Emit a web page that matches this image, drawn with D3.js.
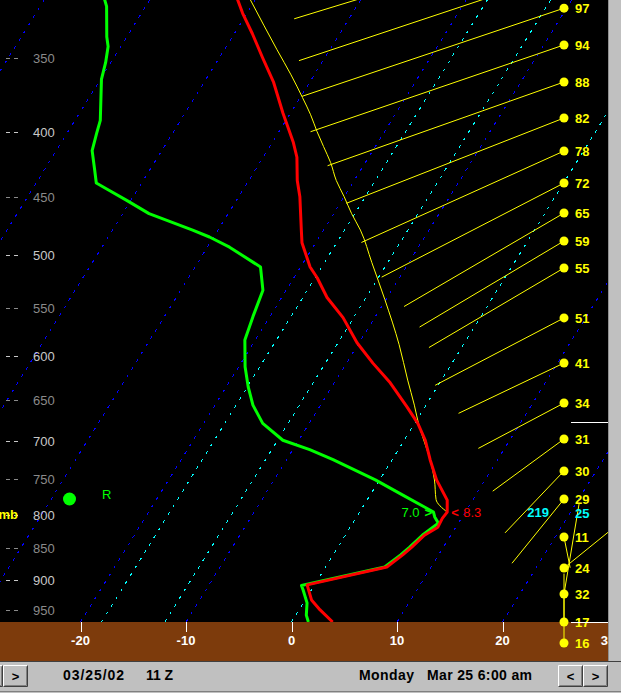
<!DOCTYPE html>
<html><head><meta charset="utf-8">
<script src="https://cdn.jsdelivr.net/npm/d3@7"></script>
<style>
html,body{margin:0;padding:0;background:#000;overflow:hidden}
svg{display:block}
text{font-family:"Liberation Sans",Arial,sans-serif}
</style></head><body>
<svg id="c" width="621" height="693"></svg>
<script>
// ---------- data ----------
const pressureLabels = [350,400,450,500,550,600,650,700,750,800,850,900,950];
const tempTicks = [-20,-10,0,10,20,30];
const isothermsBlue = [-60,-50,-40,-30,-20,-10,10,20,30];
const isothermsCyan = [-18,-12,0];

const tempP = [315,323,335,350,366,387,408,419,437,450,478,489,511,521,540,560,586,608,630,658,678,699,724,751,779,796,805,818,830,848,860,879,908,933,950,971];
const tempT = [-41.7,-40.4,-38.3,-35.9,-33.4,-30.7,-28.0,-26.8,-25.4,-24.2,-22.1,-21.3,-19.1,-17.8,-15.7,-13.0,-10.2,-7.5,-4.7,-1.7,0.3,2.0,3.6,5.4,7.6,8.3,8.2,8.3,7.5,7.0,6.6,5.8,-0.7,0.6,2.0,3.9];

const dewP = [315,319,337,343,353,364,392,401,414,429,439,444,453,464,478,484,493,511,533,559,583,612,635,656,678,699,711,724,751,772,789,796,803,812,830,848,860,879,909,916,938,959,971];
const dewT = [-54.3,-53.7,-51.9,-51.2,-50.5,-49.9,-47.6,-47.2,-46.6,-45.2,-44.3,-42.9,-40.4,-37.5,-32.4,-30.4,-27.9,-23.8,-22.2,-21.6,-21.0,-19.4,-17.9,-16.4,-14.4,-11.5,-8.4,-5.6,-0.4,3.1,5.9,7.0,7.4,8.1,7.3,6.8,6.4,5.6,-1.2,-0.8,0.35,1.0,1.6];

const parcelP = [315,330,345,361,376,388,400,411,423,437,450,464,478,507,542,588,627,656,680,701,724,751,778,796];
const parcelT = [-40.5,-37.7,-35.0,-32.2,-29.8,-28.0,-26.4,-24.9,-23.3,-21.7,-20.0,-18.3,-16.5,-13.5,-10.1,-6.1,-3.2,-1.1,0.5,2.0,3.6,5.2,6.5,8.3];

const windP   = [281,300,320,342,365.7,390.3,414.3,439,463.5,487.5,511.9,560.3,607.9,653.5,697.4,738.9,777.4,832.7,880.6,923,971,1008.5];
const windSpd = [99,98,97,94,88,82,78,72,65,59,55,51,41,34,31,30,29,11,24,32,17,16];
const windDir = [253,251.6,251.4,251.1,250.5,248.6,245.7,242.7,239.7,239.2,239.5,242.4,244.5,242.1,233.8,223.6,219,168.7,51,9.5,0,0];
const windLabels = windSpd.map(String);

const maxTempLevel = {p:796, T:8.3, label:"8.3"};
const maxDewLevel = {p:796, T:7.0, label:"7.0"};
const selDir = "219", selSpd = "25", selP = 796;
const freezingP = 676.6, surfaceP = 971;
const dateText = "03/25/02", hourText = "11 Z", dayText = "Monday", stampText = "Mar 25  6:00 am";

// ---------- layout ----------
const W = 621, H = 693, plotR = 608, groundY = 622, brownB = 661;
const svg = d3.select("#c");
const y = d3.scaleLog().domain([315.3, 971]).range([0, groundY]);
const xBase = d3.scaleLinear().domain([-20, 20]).range([80.5, 502.5]);
const SKEW = 0.62;
const sx = (T, p) => xBase(T) + SKEW * (groundY - y(p));
const windX = 564;
const windLen = d3.scaleLinear().domain([0, 100]).range([0, 285]);

svg.append("rect").attr("width", W).attr("height", H).attr("fill", "#000");
svg.append("defs").append("clipPath").attr("id", "plot")
  .append("rect").attr("x", 0).attr("y", 0).attr("width", plotR).attr("height", groundY);
const plot = svg.append("g").attr("clip-path", "url(#plot)");

// isotherms
function iso(list, color) {
  plot.selectAll(null).data(list).enter().append("line")
    .attr("x1", d => sx(d, 971)).attr("y1", y(971))
    .attr("x2", d => sx(d, 290)).attr("y2", y(290))
    .attr("stroke", color).attr("stroke-width", 1)
    .attr("stroke-dasharray", "3,6").attr("shape-rendering", "crispEdges");
}
iso(isothermsBlue, "#0000ff");
iso(isothermsCyan, "#00ffff");

// parcel curve
plot.append("path")
  .attr("d", d3.line().curve(d3.curveMonotoneY)(parcelP.map((p, i) => [sx(parcelT[i], p), y(p)])))
  .attr("fill", "none").attr("stroke", "#ffff00").attr("stroke-width", 1);

// dewpoint and temperature
plot.append("path")
  .attr("d", d3.line()(dewP.map((p, i) => [sx(dewT[i], p), y(p)])))
  .attr("fill", "none").attr("stroke", "#00ff00").attr("stroke-width", 3).attr("stroke-linejoin", "round");
plot.append("path")
  .attr("d", d3.line()(tempP.map((p, i) => [sx(tempT[i], p), y(p)])))
  .attr("fill", "none").attr("stroke", "#ff0000").attr("stroke-width", 3).attr("stroke-linejoin", "round");

// pressure labels
const pl = svg.append("g");
pressureLabels.forEach(p => {
  const c = p % 100 === 0 ? "#c8c8c8" : "#8a8a8a";
  const yy = Math.round(y(p)) + 0.5;
  pl.append("line").attr("x1", 6).attr("x2", 10).attr("y1", yy).attr("y2", yy).attr("stroke", c).attr("shape-rendering", "crispEdges");
  pl.append("line").attr("x1", 14).attr("x2", 18).attr("y1", yy).attr("y2", yy).attr("stroke", c).attr("shape-rendering", "crispEdges");
  pl.append("text").attr("x", 33).attr("y", y(p) + 5).attr("font-size", 13).attr("fill", c).text(p);
});
svg.append("text").attr("x", 18).attr("y", y(800) + 4).attr("text-anchor", "end")
  .attr("font-size", 13).attr("font-weight", "bold").attr("fill", "#ffff00").text("mb");
svg.append("circle").attr("cx", 69.5).attr("cy", 499).attr("r", 6.5).attr("fill", "#00ff00");
svg.append("text").attr("x", 102).attr("y", 499).attr("font-size", 13).attr("fill", "#00ff00").text("R");

// max labels
svg.append("text").attr("x", sx(maxDewLevel.T, maxDewLevel.p) - 32).attr("y", y(maxDewLevel.p) + 5)
  .attr("font-size", 13).attr("fill", "#00ff00").text(maxDewLevel.label);
svg.append("text").attr("x", sx(maxDewLevel.T, maxDewLevel.p) - 9).attr("y", y(maxDewLevel.p) + 5)
  .attr("font-size", 13).attr("font-weight", "bold").attr("fill", "#00ff00").text(">");
svg.append("text").attr("x", sx(maxTempLevel.T, maxTempLevel.p) + 4).attr("y", y(maxTempLevel.p) + 5)
  .attr("font-size", 13).attr("font-weight", "bold").attr("fill", "#ff0000").text("<");
svg.append("text").attr("x", sx(maxTempLevel.T, maxTempLevel.p) + 16).attr("y", y(maxTempLevel.p) + 5)
  .attr("font-size", 13).attr("fill", "#ff0000").text(maxTempLevel.label);

// ground band
svg.append("rect").attr("x", 0).attr("y", groundY).attr("width", plotR).attr("height", brownB - groundY).attr("fill", "#7d3b0c");
tempTicks.forEach(t => {
  const xx = Math.round(xBase(t)) + 0.5;
  svg.append("line").attr("x1", xx).attr("x2", xx).attr("y1", groundY).attr("y2", groundY + 10)
    .attr("stroke", "#fff").attr("shape-rendering", "crispEdges");
  svg.append("text").attr("x", xBase(t)).attr("y", 645).attr("text-anchor", "middle")
    .attr("font-size", 13).attr("font-weight", "bold").attr("fill", "#fff").text(t);
});

// wind profile
const wg = svg.append("g");
windP.forEach((p, i) => {
  const a = windDir[i] * Math.PI / 180, L = windLen(windSpd[i]);
  wg.append("line").attr("x1", windX).attr("y1", y(p))
    .attr("x2", windX + L * Math.sin(a)).attr("y2", y(p) - L * Math.cos(a))
    .attr("stroke", "#ffff00").attr("stroke-width", 1);
});
windP.forEach((p, i) => {
  if (y(p) < 0) return; // level above the visible top
  wg.append("circle").attr("cx", windX).attr("cy", y(p)).attr("r", 4.5).attr("fill", "#ffff00");
  wg.append("text").attr("x", windX + 11).attr("y", y(p) + 5).attr("font-size", 13)
    .attr("font-weight", "bold").attr("fill", "#ffff00").text(windLabels[i]);
});
svg.append("text").attr("x", 549).attr("y", y(selP) + 5).attr("text-anchor", "end").attr("font-size", 13)
  .attr("font-weight", "bold").attr("fill", "#00ffff").text(selDir);
svg.append("text").attr("x", windX + 11).attr("y", y(selP) + 6).attr("font-size", 13)
  .attr("font-weight", "bold").attr("fill", "#00ffff").text(selSpd);
[freezingP, surfaceP].forEach(p => {
  const yy = Math.round(y(p)) + 0.5;
  svg.append("line").attr("x1", 571).attr("x2", plotR).attr("y1", yy).attr("y2", yy)
    .attr("stroke", "#fff").attr("shape-rendering", "crispEdges");
});

// right strip
svg.append("rect").attr("x", plotR).attr("y", 0).attr("width", W - plotR).attr("height", brownB + 1).attr("fill", "#c0c0c0");
svg.append("line").attr("x1", plotR + 0.5).attr("x2", plotR + 0.5).attr("y1", 0).attr("y2", brownB + 1).attr("stroke", "#909090");

// status bar
svg.append("rect").attr("x", 0).attr("y", brownB + 1).attr("width", W).attr("height", H - brownB - 1).attr("fill", "#c0c0c0");
svg.append("line").attr("x1", 0).attr("x2", W).attr("y1", brownB + 0.5).attr("y2", brownB + 0.5).attr("stroke", "#404040");
svg.append("line").attr("x1", 0).attr("x2", W).attr("y1", H - 1.5).attr("y2", H - 1.5).attr("stroke", "#808080");
function button(x, w, label) {
  const g = svg.append("g");
  g.append("rect").attr("x", x).attr("y", 665).attr("width", w).attr("height", 22).attr("fill", "#c0c0c0");
  g.append("path").attr("d", `M${x + 0.5},${686.5}V${665.5}H${x + w - 0.5}`).attr("fill", "none").attr("stroke", "#fff");
  g.append("path").attr("d", `M${x + 0.5},${686.5}H${x + w - 0.5}V${665.5}`).attr("fill", "none").attr("stroke", "#404040");
  g.append("path").attr("d", `M${x + 1.5},${685.5}H${x + w - 1.5}V${666.5}`).attr("fill", "none").attr("stroke", "#808080");
  g.append("text").attr("x", x + w / 2).attr("y", 681).attr("text-anchor", "middle").attr("font-size", 13)
    .attr("font-weight", "bold").attr("fill", "#000").text(label);
}
button(-22, 25, "");
button(3, 25, ">");
button(558, 25, "<");
button(583, 25, ">");
function stxt(x, w, s) {
  svg.append("text").attr("x", x).attr("y", 680).attr("font-size", 14).attr("font-weight", "bold")
    .attr("fill", "#000").attr("textLength", w).attr("lengthAdjust", "spacing").text(s);
}
stxt(63, 61, dateText);
stxt(146, 27, hourText);
stxt(359, 55, dayText);
stxt(427, 105, stampText);
</script>
</body></html>
